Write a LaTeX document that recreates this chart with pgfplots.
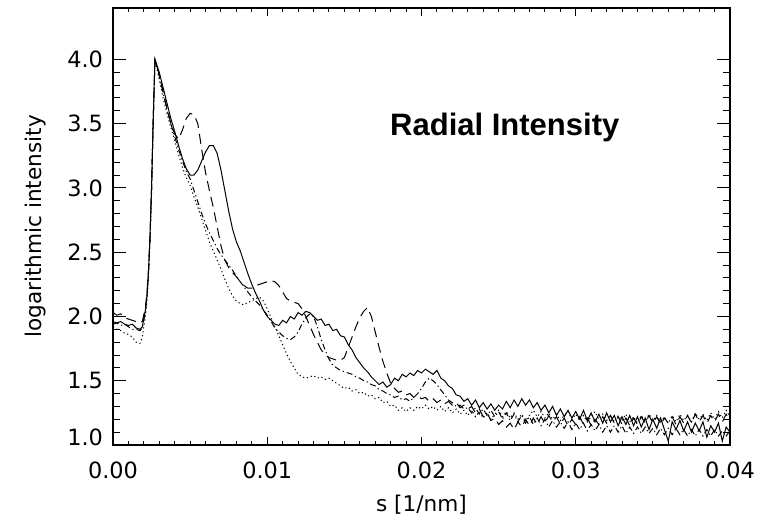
\documentclass[border=0pt]{standalone}
\usepackage{fontspec}
\setmainfont{DejaVu Sans}
\newfontfamily\titlefont{Liberation Sans}
\usepackage{pgfplots}
\pgfplotsset{compat=1.18}
\usepackage{pgfplotstable}

% radial intensity profiles: S solid, D long dash, C dash-dot, P dotted
\pgfplotstableread{
x       S    D    C    P
0.00000 1.96 2.03 1.94 1.92
0.00025 1.95 2.01 1.95 1.90
0.00050 1.96 2.02 1.93 1.89
0.00075 1.94 1.99 1.94 1.87
0.00100 1.93 1.98 1.92 1.86
0.00125 1.94 1.97 1.90 1.84
0.00150 1.91 1.96 1.90 1.80
0.00175 1.90 1.95 1.89 1.79
0.00190 1.92 1.96 1.91 1.84
0.00210 2.05 2.07 2.04 2.00
0.00220 2.16 2.18 2.15 2.12
0.00230 2.35 2.36 2.34 2.30
0.00240 2.62 2.62 2.62 2.58
0.00250 3.00 3.00 3.00 2.97
0.00260 3.50 3.50 3.50 3.48
0.00272 4.00 4.00 4.00 4.00
0.00300 3.90 3.88 3.87 3.84
0.00325 3.78 3.75 3.74 3.70
0.00350 3.66 3.62 3.61 3.58
0.00375 3.54 3.50 3.50 3.47
0.00400 3.44 3.42 3.40 3.37
0.00425 3.33 3.38 3.30 3.26
0.00450 3.23 3.45 3.21 3.16
0.00475 3.15 3.54 3.13 3.08
0.00500 3.10 3.58 3.07 3.02
0.00525 3.10 3.57 2.98 2.93
0.00550 3.14 3.50 2.89 2.85
0.00575 3.21 3.30 2.80 2.76
0.00600 3.28 3.12 2.72 2.67
0.00625 3.33 2.98 2.65 2.58
0.00650 3.33 2.85 2.59 2.51
0.00675 3.27 2.70 2.53 2.44
0.00700 3.14 2.55 2.48 2.37
0.00725 2.98 2.44 2.44 2.29
0.00750 2.82 2.38 2.40 2.22
0.00775 2.68 2.34 2.36 2.16
0.00800 2.58 2.31 2.31 2.12
0.00825 2.51 2.27 2.27 2.10
0.00850 2.42 2.24 2.23 2.09
0.00875 2.33 2.22 2.19 2.11
0.00900 2.25 2.22 2.15 2.12
0.00925 2.18 2.24 2.12 2.14
0.00950 2.12 2.25 2.09 2.15
0.00975 2.05 2.26 2.05 2.12
0.01000 2.00 2.27 2.01 2.06
0.01025 1.97 2.28 1.96 1.99
0.01050 1.94 2.27 1.91 1.92
0.01075 1.93 2.24 1.88 1.85
0.01100 1.97 2.19 1.85 1.78
0.01125 1.95 2.14 1.83 1.71
0.01150 2.00 2.12 1.82 1.65
0.01175 1.98 2.11 1.84 1.60
0.01200 2.03 2.10 1.88 1.55
0.01225 2.01 2.06 1.94 1.53
0.01250 2.04 2.00 1.99 1.52
0.01275 2.03 1.93 2.02 1.53
0.01300 2.00 1.86 2.00 1.54
0.01325 1.97 1.80 1.92 1.52
0.01350 1.98 1.74 1.82 1.53
0.01375 1.93 1.70 1.74 1.51
0.01400 1.94 1.68 1.67 1.52
0.01425 1.89 1.67 1.62 1.50
0.01450 1.90 1.66 1.60 1.48
0.01475 1.85 1.66 1.58 1.46
0.01500 1.84 1.68 1.57 1.44
0.01525 1.78 1.76 1.56 1.45
0.01550 1.74 1.84 1.55 1.42
0.01575 1.68 1.92 1.53 1.43
0.01600 1.64 1.99 1.52 1.40
0.01625 1.60 2.04 1.50 1.41
0.01650 1.57 2.07 1.49 1.38
0.01675 1.53 2.00 1.47 1.39
0.01700 1.50 1.88 1.46 1.36
0.01725 1.47 1.76 1.43 1.37
0.01750 1.49 1.65 1.42 1.33
0.01775 1.45 1.56 1.40 1.34
0.01800 1.47 1.48 1.39 1.30
0.01825 1.52 1.44 1.37 1.31
0.01850 1.50 1.41 1.38 1.27
0.01875 1.55 1.42 1.35 1.29
0.01900 1.53 1.39 1.36 1.26
0.01925 1.56 1.40 1.34 1.29
0.01950 1.54 1.37 1.37 1.27
0.01975 1.58 1.38 1.40 1.30
0.02000 1.56 1.36 1.44 1.28
0.02025 1.59 1.37 1.49 1.31
0.02050 1.57 1.34 1.52 1.28
0.02075 1.55 1.36 1.50 1.30
0.02100 1.58 1.33 1.47 1.27
0.02125 1.52 1.35 1.43 1.30
0.02150 1.50 1.32 1.39 1.26
0.02175 1.46 1.34 1.35 1.29
0.02200 1.44 1.31 1.33 1.25
0.02225 1.39 1.33 1.30 1.28
0.02250 1.38 1.29 1.31 1.24
0.02275 1.34 1.31 1.28 1.27
0.02300 1.36 1.28 1.29 1.23
0.02325 1.31 1.30 1.25 1.27
0.02350 1.35 1.25 1.29 1.22
0.02375 1.29 1.28 1.24 1.26
0.02400 1.33 1.22 1.28 1.21
0.02425 1.28 1.25 1.23 1.25
0.02450 1.32 1.19 1.27 1.20
0.02475 1.27 1.21 1.22 1.24
0.02500 1.31 1.16 1.26 1.27
0.02525 1.28 1.19 1.20 1.22
0.02550 1.34 1.14 1.25 1.26
0.02575 1.29 1.17 1.19 1.21
0.02600 1.35 1.12 1.24 1.25
0.02625 1.30 1.18 1.18 1.20
0.02650 1.36 1.14 1.23 1.24
0.02675 1.31 1.20 1.17 1.19
0.02700 1.35 1.15 1.22 1.23
0.02725 1.29 1.21 1.16 1.27
0.02750 1.33 1.16 1.21 1.22
0.02775 1.27 1.22 1.15 1.26
0.02800 1.31 1.17 1.20 1.21
0.02825 1.25 1.23 1.14 1.25
0.02850 1.30 1.18 1.19 1.20
0.02875 1.23 1.22 1.14 1.24
0.02900 1.28 1.16 1.18 1.19
0.02925 1.22 1.21 1.13 1.23
0.02950 1.27 1.15 1.18 1.26
0.02975 1.21 1.20 1.12 1.20
0.03000 1.26 1.16 1.17 1.24
0.03025 1.20 1.22 1.12 1.19
0.03050 1.27 1.16 1.17 1.23
0.03075 1.19 1.21 1.11 1.18
0.03100 1.25 1.15 1.16 1.22
0.03125 1.18 1.20 1.11 1.26
0.03150 1.24 1.16 1.16 1.20
0.03175 1.17 1.22 1.10 1.24
0.03200 1.25 1.17 1.15 1.19
0.03225 1.18 1.23 1.10 1.23
0.03250 1.23 1.17 1.15 1.18
0.03275 1.15 1.22 1.10 1.23
0.03300 1.22 1.16 1.15 1.19
0.03325 1.16 1.21 1.09 1.24
0.03350 1.23 1.15 1.14 1.18
0.03375 1.15 1.21 1.09 1.22
0.03400 1.22 1.16 1.14 1.17
0.03425 1.14 1.22 1.09 1.23
0.03450 1.21 1.17 1.14 1.18
0.03475 1.12 1.23 1.09 1.24
0.03500 1.20 1.17 1.13 1.19
0.03525 1.13 1.22 1.08 1.23
0.03550 1.21 1.16 1.13 1.18
0.03575 1.12 1.21 1.08 1.22
0.03600 1.03 1.17 1.13 1.17
0.03625 1.18 1.22 1.08 1.23
0.03650 1.12 1.16 1.13 1.18
0.03675 1.19 1.22 1.08 1.24
0.03700 1.11 1.17 1.12 1.19
0.03725 1.18 1.23 1.07 1.23
0.03750 1.10 1.17 1.12 1.18
0.03775 1.17 1.24 1.07 1.25
0.03800 1.11 1.18 1.12 1.20
0.03825 1.18 1.23 1.07 1.24
0.03850 1.06 1.17 1.12 1.19
0.03875 1.15 1.23 1.07 1.25
0.03900 1.10 1.18 1.12 1.20
0.03925 1.17 1.24 1.07 1.26
0.03950 1.03 1.18 1.11 1.21
0.03975 1.14 1.24 1.07 1.27
0.04000 1.10 1.19 1.11 1.22
}\radial

\begin{document}
\begin{tikzpicture}
\pgfplotsset{
  frame/.style={
    scale only axis, width=308.5pt, height=218.5pt,
    xmin=0, xmax=0.04, ymin=1, ymax=4.4,
    axis line style={line width=0.6pt},
    tick align=inside, tick pos=both,
    tick style={line width=0.5pt, black},
    scaled x ticks=false,
    /pgf/number format/assume math mode=true,
    tick label style={font=\fontsize{11.2}{13}\selectfont},
    label style={font=\fontsize{10.8}{13}\selectfont},
  },
}
% plots and x ticks (shorter ticks)
\begin{axis}[frame, name=ax,
  xtick={0,0.01,0.02,0.03,0.04}, minor x tick num=9,
  ytick=\empty,
  major tick length=4pt, minor tick length=2pt,
  xticklabel style={/pgf/number format/fixed, /pgf/number format/fixed zerofill,
    /pgf/number format/precision=2, yshift=-5pt},
  xlabel={s [1/nm]},
  xlabel style={at={(axis description cs:0.5,0)}, anchor=center, yshift=-30pt},
]
\addplot[black, line width=0.5pt] table[x=x, y=S] {\radial};
\addplot[black, line width=0.5pt, dash pattern=on 5pt off 3pt] table[x=x, y=D] {\radial};
\addplot[black, line width=0.5pt, dash pattern=on 3pt off 1.5pt on 0.6pt off 1.5pt] table[x=x, y=C] {\radial};
\addplot[black, line width=0.5pt, dash pattern=on 0.6pt off 1.4pt] table[x=x, y=P] {\radial};
\node[font=\titlefont\bfseries\fontsize{15.5}{18}\selectfont] at (axis cs:0.0254,3.47) {Radial Intensity};
\end{axis}
% y ticks (longer ticks)
\begin{axis}[frame,
  xtick=\empty,
  ytick={1,1.5,2,2.5,3,3.5,4}, minor y tick num=4,
  yticklabels={\smash{1.0},1.5,2.0,2.5,3.0,3.5,4.0},
  major tick length=6.5pt, minor tick length=3.3pt,
  yticklabel style={xshift=-1.5pt},
  ylabel={logarithmic intensity},
  ylabel style={at={(axis description cs:-0.1248,0.5)}, anchor=center},
]
\end{axis}
\pgfresetboundingbox
\path ([xshift=-56.5pt,yshift=-39.5pt]ax.south west) rectangle ([xshift=20pt,yshift=4pt]ax.north east);
\end{tikzpicture}
\end{document}
